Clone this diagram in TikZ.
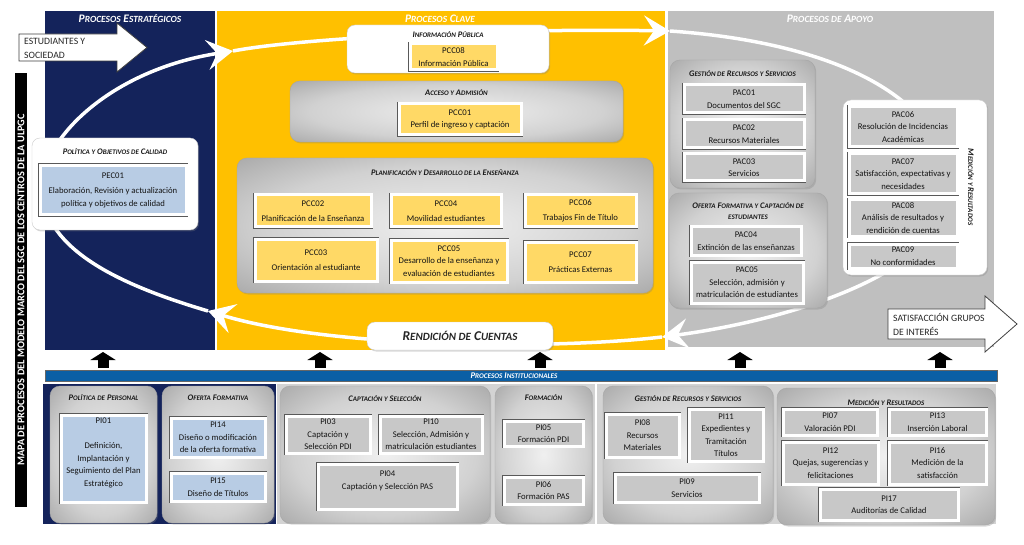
\documentclass[tikz,border=0pt]{standalone}
\usepackage{fontspec}
\setmainfont{Carlito}
\usetikzlibrary{arrows.meta,positioning,shadows}
\definecolor{navyblue}{HTML}{14235B}
\definecolor{keyyellow}{HTML}{FFC000}
\definecolor{supportgray}{HTML}{BFBFBF}
\definecolor{instgray}{HTML}{D3D3D3}
\definecolor{bandblue}{HTML}{0B5FA5}
\definecolor{paleblue}{HTML}{B8CCE4}
\definecolor{paleyellow}{HTML}{FFD966}
\definecolor{palegray}{HTML}{C8C8C8}
\pgfdeclareradialshading{groupshade}{\pgfpoint{0bp}{0bp}}{color(0bp)=(black!6);
  color(22bp)=(black!18); color(38bp)=(black!36); color(50bp)=(black!58); color(72bp)=(black!66)}
\newcommand\boxfont{\fontsize{8.7}{12.5}\selectfont}
\newcommand\titlefont{\bfseries\itshape\fontsize{8.5}{11}\selectfont}
\newcommand\panelfont{\bfseries\itshape\fontsize{11.5}{13}\selectfont}
\newcommand\arrowfont{\fontsize{9.7}{14}\selectfont}
\makeatletter
\newcommand\lc[1]{{\fontsize{\strip@pt\dimexpr\f@size pt*82/100\relax}{\f@baselineskip}\selectfont#1}}
\makeatother
\begin{document}
\begin{tikzpicture}[x=1pt,y=-1pt,
  paneltitle/.style={font=\panelfont, text=white, inner sep=0pt},
  bandtitle/.style={font=\bfseries\itshape\fontsize{8.7}{10}\selectfont, text=white, inner sep=0pt},
  bigtitle/.style={font=\bfseries\itshape\fontsize{13.5}{15}\selectfont, text=black!85},
  grouptitle/.style={font=\titlefont, text=black!90, align=center, inner sep=0pt},
  whitegroup/.style={fill=white, draw=black!20, rounded corners=8pt, inner sep=0pt,
    drop shadow={shadow xshift=1.2pt, shadow yshift=-1.5pt, opacity=0.3}},
  graygroup/.style={rounded corners=10pt, draw=black!35, inner sep=0pt, shading=groupshade,
    drop shadow={shadow xshift=1.2pt, shadow yshift=-1.5pt, opacity=0.3}},
  pbox/.style={fill=#1, draw=white, line width=3pt, preaction={draw=black!65, line width=4.2pt},
    align=center, inner sep=0pt, font=\boxfont, text=black!92},
  ringarrow/.style={white, line width=3.5pt, -{Stealth[length=26pt,width=30pt,inset=10pt]}},
  blockarrow/.style={fill=white, draw=black!75, line width=0.8pt, line join=miter},
  arrowtext/.style={font=\arrowfont, align=left, inner sep=0pt, text=black!85},
  maptitle/.style={fill=black, text=white, inner sep=0pt, font=\bfseries\fontsize{10.3}{12}\selectfont},
  uparrow/.style={line width=11pt, -{Triangle[width=25pt,length=8pt]}}
]
\useasboundingbox (0,0) rectangle (1024,545);
\fill[white] (0,0) rectangle (1024,545);

% process panels
\fill[navyblue] (45,11) rectangle (215,350);
\fill[keyyellow] (217,11) rectangle (665,350);
\fill[supportgray] (668,11) rectangle (994,347);
\node[paneltitle] (strat) at (130,19) {P\lc{ROCESOS} E\lc{STRATÉGICOS}};
\node[paneltitle] (clave) at (440,19) {P\lc{ROCESOS} C\lc{LAVE}};
\node[paneltitle] (apoyo) at (830,19) {P\lc{ROCESOS DE} A\lc{POYO}};

% white loop
\coordinate (loopa) at (233,51);
\coordinate (loopb) at (670,31);
\coordinate (loopc) at (662,337);
\coordinate (loopd) at (208,311);
\draw[ringarrow] (loopd) .. controls (120,285) and (45,250) .. (42,190)
  .. controls (40,140) and (110,70) .. (loopa);
\draw[ringarrow] (loopa) .. controls (300,38) and (500,28) .. (loopb);
\draw[ringarrow] (loopb) .. controls (800,40) and (935,80) .. (950,180)
  .. controls (960,270) and (790,320) .. (loopc);
\draw[ringarrow] (loopc) .. controls (550,350) and (330,348) .. (loopd);

% strategic
\node[whitegroup, minimum width=166, minimum height=92] (polcal) at (115,184) {};
\node[grouptitle] (polcaltitle) at ([yshift=-14pt]polcal.north) {P\lc{OLÍTICA Y} O\lc{BJETIVOS DE} C\lc{ALIDAD}};
\node[pbox=paleblue, minimum width=146, minimum height=49] (pec01) at (113,190) {PEC01\\[3pt]Elaboración, Revisión y actualización\\política y objetivos de calidad};

% key
\node[whitegroup, minimum width=202, minimum height=48] (infopub) at (448,49) {};
\node[grouptitle] (infopubtitle) at ([yshift=-10pt]infopub.north) {I\lc{NFORMACIÓN} P\lc{ÚBLICA}};
\node[pbox=paleyellow, minimum width=87, minimum height=26] (pcc08) at (453.5,57) {PCC08\\Información Pública};

\node[graygroup, minimum width=333, minimum height=61] (acceso) at (456.5,111.5) {};
\node[grouptitle] (accesotitle) at ([yshift=-12pt]acceso.north) {A\lc{CCESO Y} A\lc{DMISIÓN}};
\node[pbox=paleyellow, minimum width=122, minimum height=31] (pcc01) at (460,119.5) {PCC01\\Perfil de ingreso y captación};

\node[graygroup, minimum width=416, minimum height=135] (planif) at (445,225.5) {};
\node[grouptitle] (planiftitle) at ([yshift=-15pt]planif.north) {P\lc{LANIFICACIÓN Y} D\lc{ESARROLLO DE LA} E\lc{NSEÑANZA}};
\node[pbox=paleyellow, minimum width=116, minimum height=32] (pcc02) at (313,211) {PCC02\\[3pt]Planificación de la Enseñanza};
\node[pbox=paleyellow, minimum width=110, minimum height=32] (pcc04) at (446,211) {PCC04\\[3pt]Movilidad estudiantes};
\node[pbox=paleyellow, minimum width=111, minimum height=32] (pcc06) at (580.5,211) {PCC06\\[3pt]Trabajos Fin de Título};
\node[pbox=paleyellow, minimum width=122, minimum height=42] (pcc03) at (316,260) {PCC03\\[3pt]Orientación al estudiante};
\node[pbox=paleyellow, minimum width=116, minimum height=42] (pcc05) at (449,261) {PCC05\\Desarrollo de la enseñanza y\\evaluación de estudiantes};
\node[pbox=paleyellow, minimum width=111, minimum height=40] (pcc07) at (580.5,262) {PCC07\\[3pt]Prácticas Externas};

\node[whitegroup, bigtitle, minimum width=186, minimum height=28] (rendicion) at (460,336) {R\lc{ENDICIÓN DE} C\lc{UENTAS}};

% support
\node[graygroup, minimum width=145, minimum height=128] (gestrec) at (742.5,124) {};
\node[grouptitle] (gestrectitle) at ([yshift=-14pt]gestrec.north) {G\lc{ESTIÓN DE} R\lc{ECURSOS Y} S\lc{ERVICIOS}};
\node[pbox=palegray, minimum width=120, minimum height=28] (pac01) at (744,99) {PAC01\\Documentos del SGC};
\node[pbox=palegray, minimum width=120, minimum height=28] (pac02) at (744,134) {PAC02\\Recursos Materiales};
\node[pbox=palegray, minimum width=120, minimum height=27] (pac03) at (744,167.5) {PAC03\\Servicios};

\node[graygroup, minimum width=158, minimum height=115] (oferta) at (748,250.5) {};
\node[grouptitle] (ofertatitle) at ([yshift=-18.5pt]oferta.north) {O\lc{FERTA} F\lc{ORMATIVA Y} C\lc{APTACIÓN DE}\\\lc{ESTUDIANTES}};
\node[pbox=palegray, minimum width=110, minimum height=28] (pac04) at (746,241) {PAC04\\Extinción de las enseñanzas};
\node[pbox=palegray, minimum width=112, minimum height=41] (pac05) at (747,282.5) {PAC05\\Selección, admisión y\\matriculación de estudiantes};

\node[whitegroup, minimum width=144, minimum height=175] (medapoyo) at (915,187.5) {};
\node[grouptitle, rotate=-90] (medapoyotitle) at (971,187) {M\lc{EDICIÓN Y} R\lc{ESULTADOS}};
\node[pbox=palegray, minimum width=108, minimum height=40] (pac06) at (903,127) {PAC06\\Resolución de Incidencias\\Académicas};
\node[pbox=palegray, minimum width=108, minimum height=40] (pac07) at (903,174) {PAC07\\Satisfacción, expectativas y\\necesidades};
\node[pbox=palegray, minimum width=108, minimum height=36] (pac08) at (903,218) {PAC08\\Análisis de resultados y\\rendición de cuentas};
\node[pbox=palegray, minimum width=108, minimum height=24] (pac09) at (903,256) {PAC09\\No conformidades};

% in and out arrows
\draw[blockarrow] (19,34) -- (117,34) -- (117,23) -- (147,47.5) -- (117,72) -- (117,61) -- (19,61) -- cycle;
\node[arrowtext, anchor=west] (estudiantes) at (24,48) {ESTUDIANTES Y\\SOCIEDAD};
\draw[blockarrow] (888,309) -- (985,309) -- (985,296) -- (1017,324) -- (985,352) -- (985,339) -- (888,339) -- cycle;
\node[arrowtext, anchor=west] (satisfaccion) at (893,324) {SATISFACCIÓN GRUPOS\\DE INTERÉS};

\node[maptitle, rotate=90, minimum width=434, minimum height=12] (mapa) at (21,290) {MAPA DE PROCESOS DEL MODELO MARCO DEL SGC DE LOS CENTROS DE LA ULPGC};

% institutional
\draw[uparrow] (103,368) -- (103,352);
\draw[uparrow] (320,368) -- (320,352);
\draw[uparrow] (540,368) -- (540,352);
\draw[uparrow] (740,368) -- (740,352);
\draw[uparrow] (940,368) -- (940,352);
\filldraw[fill=bandblue, draw=black!60, line width=0.5pt] (45,370) rectangle (997,381);
\node[bandtitle] (insttitle) at (514,376) {P\lc{ROCESOS} I\lc{NSTITUCIONALES}};
\fill[navyblue] (43,384) rectangle (276,524);
\fill[instgray] (277,384) rectangle (595,524);
\fill[instgray] (597,384) rectangle (996,524);

\node[graygroup, minimum width=107, minimum height=137] (polpers) at (103.5,454.5) {};
\node[grouptitle] (polperstitle) at ([yshift=-12pt]polpers.north) {P\lc{OLÍTICA DE} P\lc{ERSONAL}};
\node[pbox=paleblue, minimum width=85, minimum height=87] (pi01) at (103.5,458.5) {PI01\\[12.5pt]Definición,\\Implantación y\\Seguimiento del Plan\\Estratégico\\~};

\node[graygroup, minimum width=112, minimum height=137] (ofform) at (218,454.5) {};
\node[grouptitle] (offormtitle) at ([yshift=-12pt]ofform.north) {O\lc{FERTA} F\lc{ORMATIVA}};
\node[pbox=paleblue, minimum width=94, minimum height=39] (pi14) at (218,437.5) {PI14\\Diseño o modificación\\de la oferta formativa};
\node[pbox=paleblue, minimum width=94, minimum height=28] (pi15) at (218,487) {PI15\\Diseño de Títulos};

\node[graygroup, minimum width=210, minimum height=137] (capsel) at (385,454.5) {};
\node[grouptitle] (capseltitle) at ([yshift=-13pt]capsel.north) {C\lc{APTACIÓN Y} S\lc{ELECCIÓN}};
\node[pbox=palegray, minimum width=84, minimum height=37] (pi03) at (328,434.5) {PI03\\Captación y\\Selección PDI};
\node[pbox=palegray, minimum width=102, minimum height=37] (pi10) at (431,434.5) {PI10\\Selección, Admisión y\\matriculación estudiantes};
\node[pbox=palegray, minimum width=139, minimum height=45] (pi04) at (387.5,486.5) {PI04\\Captación y Selección PAS\\~};

\node[graygroup, minimum width=97, minimum height=137] (formacion) at (543.5,454.5) {};
\node[grouptitle] (formaciontitle) at ([yshift=-12pt]formacion.north) {F\lc{ORMACIÓN}};
\node[pbox=palegray, minimum width=79, minimum height=25] (pi05) at (543.5,433.5) {PI05\\Formación PDI};
\node[pbox=palegray, minimum width=79, minimum height=27] (pi06) at (543.5,490.5) {PI06\\Formación PAS};

\node[graygroup, minimum width=170, minimum height=137] (gestinst) at (688,454.5) {};
\node[grouptitle] (gestinsttitle) at ([yshift=-13pt]gestinst.north) {G\lc{ESTIÓN DE} R\lc{ECURSOS Y} S\lc{ERVICIOS}};
\node[pbox=palegray, minimum width=73, minimum height=43] (pi08) at (642.5,435.5) {PI08\\Recursos\\Materiales};
\node[pbox=palegray, minimum width=74, minimum height=52] (pi11) at (726,435) {PI11\\Expedientes y\\Tramitación\\Títulos};
\node[pbox=palegray, minimum width=144, minimum height=28] (pi09) at (687,488) {PI09\\Servicios};

\node[graygroup, minimum width=218, minimum height=137] (medinst) at (886,456.5) {};
\node[grouptitle] (medinsttitle) at ([yshift=-15pt]medinst.north) {M\lc{EDICIÓN Y} R\lc{ESULTADOS}};
\node[pbox=palegray, minimum width=94, minimum height=26] (pi07) at (830,422) {PI07\\Valoración PDI};
\node[pbox=palegray, minimum width=97, minimum height=26] (pi13) at (937.5,422) {PI13\\Inserción Laboral};
\node[pbox=palegray, minimum width=95, minimum height=42] (pi12) at (830.5,463) {PI12\\Quejas, sugerencias y\\felicitaciones};
\node[pbox=palegray, minimum width=97, minimum height=42] (pi16) at (937.5,463) {PI16\\Medición de la\\satisfacción};
\node[pbox=palegray, minimum width=138, minimum height=31] (pi17) at (889,504.5) {PI17\\Auditorías de Calidad};
\end{tikzpicture}
\end{document}
